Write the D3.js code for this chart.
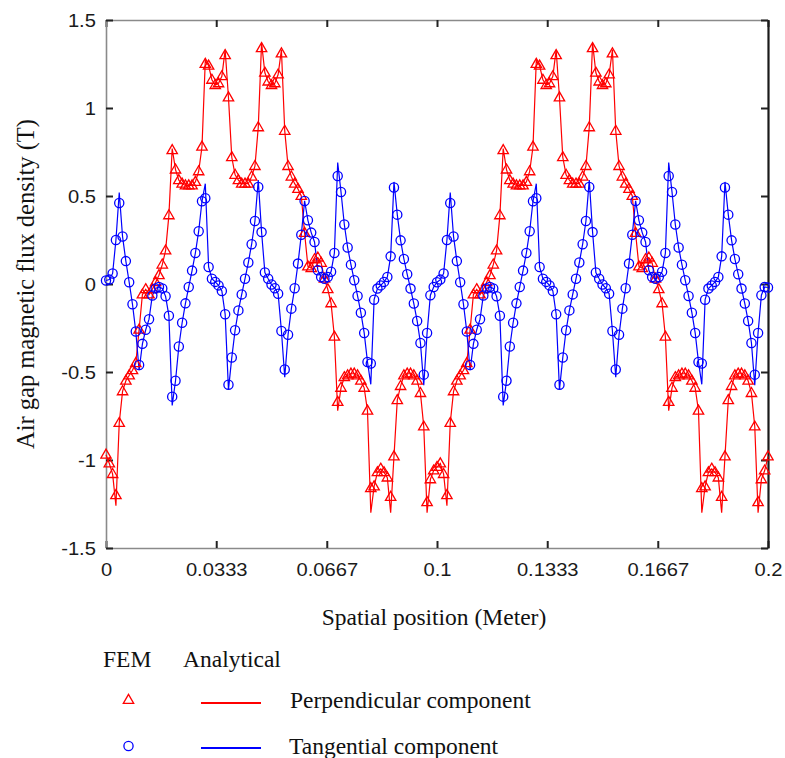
<!DOCTYPE html>
<html><head><meta charset="utf-8">
<script src="https://cdn.jsdelivr.net/npm/d3@7"></script>
<style>body{margin:0;background:#fff}</style>
</head><body>
<svg id="chart" width="785" height="758"></svg>
<script>
// ---------- data ----------
const xTicks = [0, 0.0333, 0.0667, 0.1, 0.1333, 0.1667, 0.2];
const xTickLabels = ["0", "0.0333", "0.0667", "0.1", "0.1333", "0.1667", "0.2"];
const yTicks = [-1.5, -1, -0.5, 0, 0.5, 1, 1.5];
const yTickLabels = ["-1.5", "-1", "-0.5", "0", "0.5", "1", "1.5"];
const positionStart = 0;      // m
const positionStep = 0.001;   // m, FEM node spacing

const perpFEM = [
 -0.97,-1.02,-1.08,-1.2,-0.79,-0.61,-0.55,-0.52,-0.49,-0.45,
 -0.26,-0.06,-0.03,-0.06,-0.03,0.01,0.05,0.11,0.19,0.39,
 0.76,0.65,0.59,0.57,0.56,0.56,0.56,0.58,0.64,0.78,
 1.25,1.24,1.16,1.13,1.14,1.18,1.3,1.06,0.72,0.62,
 0.59,0.57,0.57,0.57,0.61,0.67,0.89,1.34,1.2,1.15,
 1.13,1.14,1.19,1.31,0.87,0.67,0.61,0.57,0.54,0.5,
 0.29,0.1,0.09,0.14,0.15,0.12,0.03,-0.03,-0.11,-0.3,
 -0.67,-0.59,-0.53,-0.52,-0.51,-0.51,-0.52,-0.55,-0.59,-0.72,
 -1.16,-1.15,-1.07,-1.05,-1.07,-1.1,-1.21,-0.98,-0.66,-0.58,
 -0.52,-0.51,-0.51,-0.52,-0.55,-0.62,-0.81,-1.24,-1.11,-1.06,
 -1.04,-1.02,-1.08,-1.2,-0.79,-0.61,-0.55,-0.52,-0.49,-0.45,
 -0.26,-0.06,-0.03,-0.06,-0.03,0.01,0.05,0.11,0.19,0.39,
 0.76,0.65,0.59,0.57,0.56,0.56,0.56,0.58,0.64,0.78,
 1.25,1.24,1.16,1.13,1.14,1.18,1.3,1.06,0.72,0.62,
 0.59,0.57,0.57,0.57,0.61,0.67,0.89,1.34,1.2,1.15,
 1.13,1.14,1.19,1.31,0.87,0.67,0.61,0.57,0.54,0.5,
 0.29,0.1,0.09,0.14,0.15,0.12,0.03,-0.03,-0.11,-0.3,
 -0.67,-0.59,-0.53,-0.52,-0.51,-0.51,-0.52,-0.55,-0.59,-0.72,
 -1.16,-1.15,-1.07,-1.05,-1.07,-1.1,-1.21,-0.98,-0.66,-0.58,
 -0.52,-0.51,-0.51,-0.52,-0.55,-0.62,-0.81,-1.24,-1.11,-1.06,
 -0.98
];

const tanFEM = [
 0.02,0.025,0.06,0.25,0.46,0.27,0.13,0.01,-0.115,-0.27,
 -0.46,-0.34,-0.26,-0.2,-0.065,-0.025,-0.017,-0.025,-0.07,-0.18,
 -0.64,-0.55,-0.355,-0.22,-0.11,-0.017,0.076,0.176,0.3,0.47,
 0.487,0.097,0.03,0.012,-0.008,-0.04,-0.172,-0.572,-0.418,-0.263,
 -0.15,-0.059,0.03,0.122,0.226,0.358,0.551,0.295,0.065,0.03,
 -0.003,-0.024,-0.055,-0.267,-0.486,-0.288,-0.14,-0.024,0.116,0.28,
 0.472,0.362,0.292,0.239,0.078,0.04,0.03,0.04,0.07,0.176,
 0.614,0.523,0.338,0.207,0.11,0.021,-0.068,-0.163,-0.278,-0.443,
 -0.452,-0.089,-0.026,-0.008,0.012,0.04,0.157,0.548,0.394,0.248,
 0.142,0.055,-0.026,-0.111,-0.21,-0.335,-0.515,-0.278,-0.064,-0.017,
 0.01,0.025,0.06,0.25,0.46,0.27,0.13,0.01,-0.115,-0.27,
 -0.46,-0.34,-0.26,-0.2,-0.065,-0.025,-0.017,-0.025,-0.07,-0.18,
 -0.64,-0.55,-0.355,-0.22,-0.11,-0.017,0.076,0.176,0.3,0.47,
 0.487,0.097,0.03,0.012,-0.008,-0.04,-0.172,-0.572,-0.418,-0.263,
 -0.15,-0.059,0.03,0.122,0.226,0.358,0.551,0.295,0.065,0.03,
 -0.003,-0.024,-0.055,-0.267,-0.486,-0.288,-0.14,-0.024,0.116,0.28,
 0.472,0.362,0.292,0.239,0.078,0.04,0.03,0.04,0.07,0.176,
 0.614,0.523,0.338,0.207,0.11,0.021,-0.068,-0.163,-0.278,-0.443,
 -0.452,-0.089,-0.026,-0.008,0.012,0.04,0.157,0.548,0.394,0.248,
 0.142,0.055,-0.026,-0.111,-0.21,-0.335,-0.515,-0.278,-0.064,-0.017,
 -0.02
];

const perpAnalytical = [
 -0.97,-1.02,-1.08,-1.26,-0.79,-0.61,-0.55,-0.52,-0.49,-0.45,
 -0.26,-0.06,-0.03,-0.06,-0.03,0.01,0.05,0.11,0.19,0.39,
 0.77,0.65,0.59,0.57,0.56,0.56,0.56,0.58,0.64,0.78,
 1.27,1.24,1.16,1.13,1.14,1.18,1.33,1.06,0.72,0.62,
 0.59,0.57,0.57,0.57,0.61,0.67,0.89,1.37,1.2,1.15,
 1.13,1.14,1.19,1.33,0.87,0.67,0.61,0.57,0.54,0.5,
 0.29,0.1,0.09,0.14,0.15,0.12,0.03,-0.03,-0.11,-0.3,
 -0.72,-0.59,-0.53,-0.52,-0.51,-0.51,-0.52,-0.55,-0.59,-0.72,
 -1.3,-1.15,-1.07,-1.05,-1.07,-1.1,-1.3,-0.98,-0.66,-0.58,
 -0.52,-0.51,-0.51,-0.52,-0.55,-0.62,-0.81,-1.3,-1.11,-1.06,
 -1.04,-1.02,-1.08,-1.26,-0.79,-0.61,-0.55,-0.52,-0.49,-0.45,
 -0.26,-0.06,-0.03,-0.06,-0.03,0.01,0.05,0.11,0.19,0.39,
 0.77,0.65,0.59,0.57,0.56,0.56,0.56,0.58,0.64,0.78,
 1.27,1.24,1.16,1.13,1.14,1.18,1.33,1.06,0.72,0.62,
 0.59,0.57,0.57,0.57,0.61,0.67,0.89,1.37,1.2,1.15,
 1.13,1.14,1.19,1.33,0.87,0.67,0.61,0.57,0.54,0.5,
 0.29,0.1,0.09,0.14,0.15,0.12,0.03,-0.03,-0.11,-0.3,
 -0.72,-0.59,-0.53,-0.52,-0.51,-0.51,-0.52,-0.55,-0.59,-0.72,
 -1.3,-1.15,-1.07,-1.05,-1.07,-1.1,-1.3,-0.98,-0.66,-0.58,
 -0.52,-0.51,-0.51,-0.52,-0.55,-0.62,-0.81,-1.3,-1.11,-1.06,
 -0.98
];

const tanAnalytical = [
 0.02,0.025,0.06,0.25,0.52,0.27,0.13,0.01,-0.115,-0.27,
 -0.49,-0.34,-0.26,-0.2,-0.065,-0.025,-0.017,-0.025,-0.07,-0.18,
 -0.69,-0.55,-0.355,-0.22,-0.11,-0.017,0.076,0.176,0.3,0.47,
 0.57,0.097,0.03,0.012,-0.008,-0.04,-0.172,-0.6,-0.418,-0.263,
 -0.15,-0.059,0.03,0.122,0.226,0.358,0.59,0.295,0.065,0.03,
 -0.003,-0.024,-0.055,-0.267,-0.53,-0.288,-0.14,-0.024,0.116,0.28,
 0.472,0.362,0.292,0.239,0.078,0.04,0.03,0.04,0.07,0.176,
 0.69,0.523,0.338,0.207,0.11,0.021,-0.068,-0.163,-0.278,-0.443,
 -0.57,-0.089,-0.026,-0.008,0.012,0.04,0.157,0.58,0.394,0.248,
 0.142,0.055,-0.026,-0.111,-0.21,-0.335,-0.575,-0.278,-0.064,-0.017,
 0.01,0.025,0.06,0.25,0.52,0.27,0.13,0.01,-0.115,-0.27,
 -0.49,-0.34,-0.26,-0.2,-0.065,-0.025,-0.017,-0.025,-0.07,-0.18,
 -0.69,-0.55,-0.355,-0.22,-0.11,-0.017,0.076,0.176,0.3,0.47,
 0.57,0.097,0.03,0.012,-0.008,-0.04,-0.172,-0.6,-0.418,-0.263,
 -0.15,-0.059,0.03,0.122,0.226,0.358,0.59,0.295,0.065,0.03,
 -0.003,-0.024,-0.055,-0.267,-0.53,-0.288,-0.14,-0.024,0.116,0.28,
 0.472,0.362,0.292,0.239,0.078,0.04,0.03,0.04,0.07,0.176,
 0.69,0.523,0.338,0.207,0.11,0.021,-0.068,-0.163,-0.278,-0.443,
 -0.57,-0.089,-0.026,-0.008,0.012,0.04,0.157,0.58,0.394,0.248,
 0.142,0.055,-0.026,-0.111,-0.21,-0.335,-0.575,-0.278,-0.064,-0.017,
 -0.02
];

// ---------- layout ----------
const svg = d3.select("#chart");
const L = 106, R = 768, T = 20, B = 548;
const x = d3.scaleLinear().domain([0, 0.2]).range([L, R]);
const y = d3.scaleLinear().domain([-1.5, 1.5]).range([B, T]);
const pos = i => positionStart + i * positionStep;

const RED = "#ff0000", BLUE = "#0000ff";
const serif = "'Liberation Serif','Times New Roman',Times,serif";
const sans = "'Liberation Sans',Arial,Helvetica,sans-serif";

svg.append("rect").attr("width", 785).attr("height", 758).attr("fill", "#fff");

// axes (box with inward ticks)
const axB = svg.append("g").attr("transform", `translate(0,${B})`)
  .call(d3.axisBottom(x).tickValues(xTicks).tickFormat((d, i) => xTickLabels[i]).tickSize(-7).tickSizeOuter(0));
const axT = svg.append("g").attr("transform", `translate(0,${T})`)
  .call(d3.axisTop(x).tickValues(xTicks).tickFormat("").tickSize(-7).tickSizeOuter(0));
const axL = svg.append("g").attr("transform", `translate(${L},0)`)
  .call(d3.axisLeft(y).tickValues(yTicks).tickFormat((d, i) => yTickLabels[i]).tickSize(-7).tickSizeOuter(0));
const axR = svg.append("g").attr("transform", `translate(${R},0)`)
  .call(d3.axisRight(y).tickValues(yTicks).tickFormat("").tickSize(-7).tickSizeOuter(0));

[axB, axT, axL].forEach(a => a.select(".domain").attr("stroke", "#8a8a8a").attr("stroke-width", 1.6));
axR.select(".domain").attr("stroke", "#1a1a1a").attr("stroke-width", 2.2);
[axB, axT, axL, axR].forEach(a => a.selectAll(".tick line").attr("stroke", "#222").attr("stroke-width", 2));

axB.selectAll(".tick text")
  .attr("y", 28).attr("dy", 0)
  .attr("font-family", sans).attr("font-size", 18).attr("fill", "#1a1a1a")
  .attr("transform", "scale(1.12,1)");
axL.selectAll(".tick text")
  .attr("x", -9).attr("dy", "0.36em")
  .attr("font-family", sans).attr("font-size", 18).attr("fill", "#1a1a1a")
  .attr("transform", "scale(1.12,1)");

// clip for the plotting area
svg.append("clipPath").attr("id", "clip").append("rect")
  .attr("x", L - 6).attr("y", T - 6).attr("width", R - L + 12).attr("height", B - T + 12);
const plot = svg.append("g").attr("clip-path", "url(#clip)");

const line = d3.line().x((d, i) => x(pos(i))).y(d => y(d));

plot.append("path").datum(perpAnalytical).attr("d", line)
  .attr("fill", "none").attr("stroke", RED).attr("stroke-width", 1.2);
plot.append("path").datum(tanAnalytical).attr("d", line)
  .attr("fill", "none").attr("stroke", BLUE).attr("stroke-width", 1.2);

const tri = "M0,-5.6L5.2,3.4L-5.2,3.4Z";
plot.selectAll("path.tri").data(perpFEM).join("path").attr("class", "tri")
  .attr("d", tri)
  .attr("transform", (d, i) => `translate(${x(pos(i))},${y(d)})`)
  .attr("fill", "none").attr("stroke", RED).attr("stroke-width", 1.3);
plot.selectAll("circle.cir").data(tanFEM).join("circle").attr("class", "cir")
  .attr("cx", (d, i) => x(pos(i))).attr("cy", d => y(d)).attr("r", 4.6)
  .attr("fill", "none").attr("stroke", BLUE).attr("stroke-width", 1.3);

// axis titles
svg.append("text").attr("x", 434).attr("y", 625).attr("text-anchor", "middle")
  .attr("font-family", serif).attr("font-size", 23.5).attr("fill", "#111")
  .text("Spatial position (Meter)");
svg.append("text").attr("transform", "translate(34,284) rotate(-90)").attr("text-anchor", "middle")
  .attr("font-family", serif).attr("font-size", 24.5).attr("fill", "#111")
  .text("Air gap magnetic flux density (T)");

// legend
const lg = svg.append("g").attr("font-family", serif).attr("font-size", 23.5).attr("fill", "#111");
lg.append("text").attr("x", 103).attr("y", 667).text("FEM");
lg.append("text").attr("x", 183).attr("y", 667).text("Analytical");
lg.append("path").attr("d", tri).attr("transform", "translate(128.5,700)")
  .attr("fill", "none").attr("stroke", RED).attr("stroke-width", 1.3);
lg.append("line").attr("x1", 201).attr("x2", 261).attr("y1", 703).attr("y2", 703)
  .attr("stroke", RED).attr("stroke-width", 2);
lg.append("text").attr("x", 290).attr("y", 708).text("Perpendicular component");
lg.append("circle").attr("cx", 128.5).attr("cy", 746).attr("r", 4.6)
  .attr("fill", "none").attr("stroke", BLUE).attr("stroke-width", 1.3);
lg.append("line").attr("x1", 201).attr("x2", 261).attr("y1", 748).attr("y2", 748)
  .attr("stroke", BLUE).attr("stroke-width", 2);
lg.append("text").attr("x", 289).attr("y", 754).text("Tangential component");
</script>
</body></html>
